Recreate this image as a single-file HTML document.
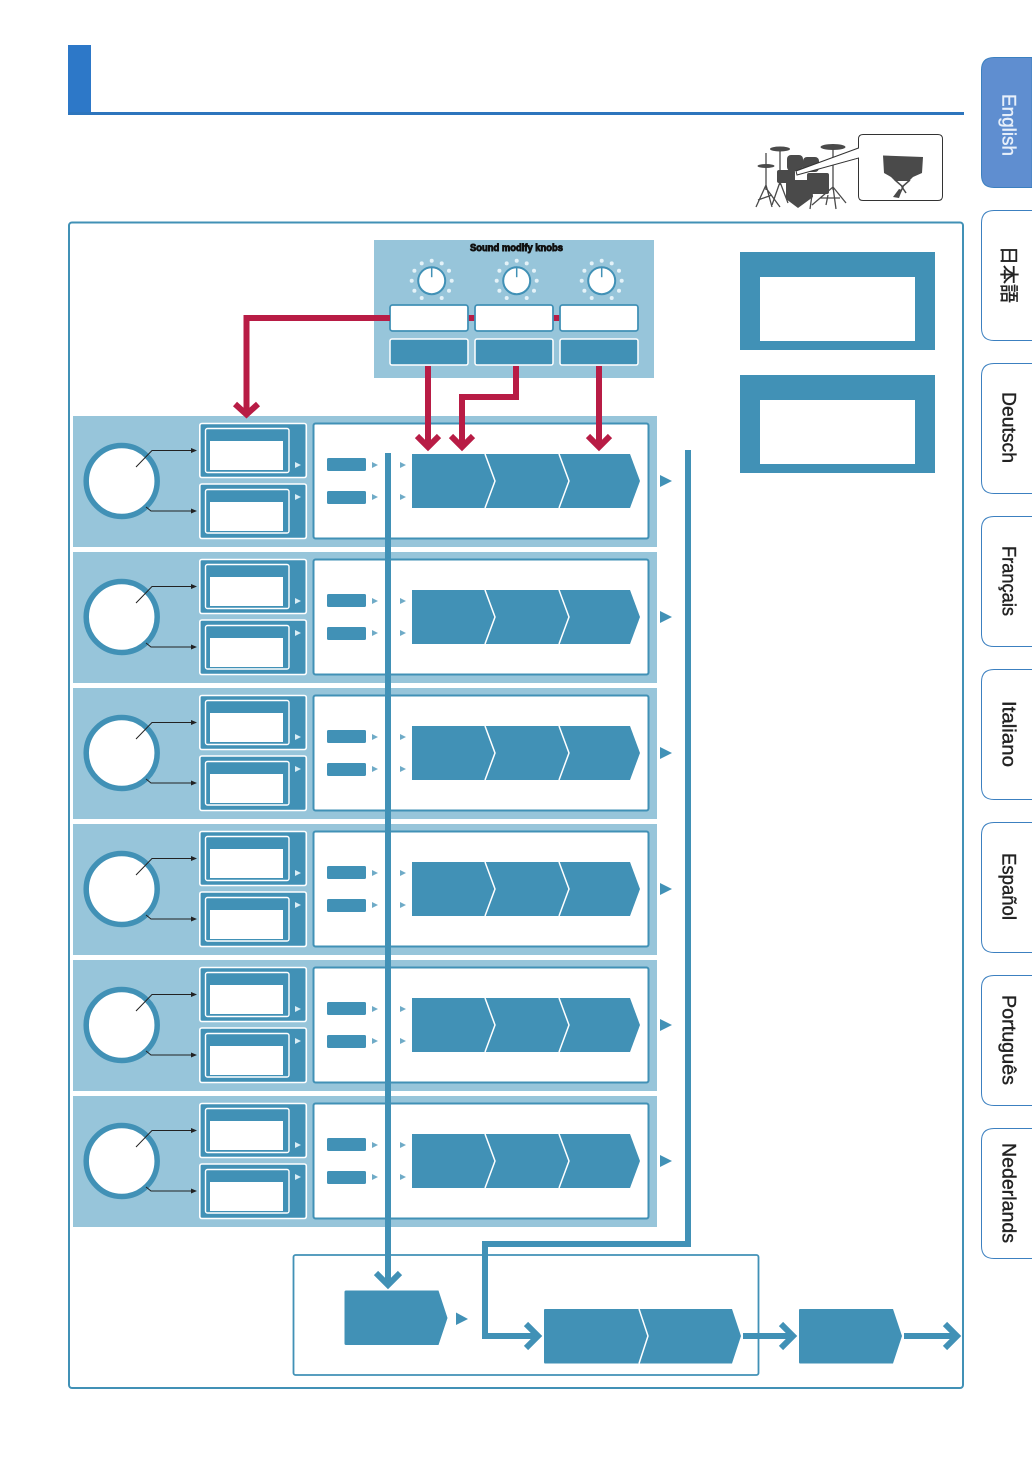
<!DOCTYPE html>
<html lang="en"><head><meta charset="utf-8"><title>Diagram</title>
<style>html,body{margin:0;padding:0;background:#fff}svg{display:block}</style></head>
<body>
<svg xmlns="http://www.w3.org/2000/svg" width="1032" height="1457" viewBox="0 0 1032 1457">
<defs>
<g id="row">
  <rect x="73" y="416" width="584" height="131" fill="#97c5da"/>
  <circle cx="121.700" cy="481" r="35.500" fill="#fff" stroke="#4191b6" stroke-width="5.500"/>
  <path d="M136 467L152 450.500H192M146 507L151 511H192" fill="none" stroke="#222" stroke-width="1"/>
  <path d="M191 448L197 450.500L191 453ZM191 508.500L197 511L191 513.500Z" fill="#222"/>
  <rect x="199.800" y="423.500" width="106.500" height="54" rx="2" fill="#4191b6" stroke="#fff" stroke-width="1.600"/>
  <rect x="205.500" y="428.500" width="83.500" height="44" rx="2" fill="#4191b6" stroke="#fff" stroke-width="1.400"/>
  <rect x="210" y="441" width="73" height="29" fill="#fff"/>
  <path d="M295 462L301 465L295 468Z" fill="#d9edf5"/>
  <rect x="199.800" y="484" width="106.500" height="54.500" rx="2" fill="#4191b6" stroke="#fff" stroke-width="1.600"/>
  <rect x="205.500" y="489.500" width="83.500" height="43.500" rx="2" fill="#4191b6" stroke="#fff" stroke-width="1.400"/>
  <rect x="210" y="502" width="73" height="29" fill="#fff"/>
  <path d="M295 494L301 497L295 500Z" fill="#d9edf5"/>
  <rect x="313.500" y="423.500" width="335" height="115" rx="2" fill="#fff" stroke="#4191b6" stroke-width="2"/>
  <rect x="327" y="458" width="39" height="13" rx="1.500" fill="#4191b6"/>
  <rect x="327" y="491" width="39" height="13" rx="1.500" fill="#4191b6"/>
  <path d="M372 462L378 465L372 468ZM372 494L378 497L372 500ZM400 462L406 465L400 468ZM400 494L406 497L400 500Z" fill="#6fabc7"/>
  <path d="M412 454H630L640 481L630 508H412Z" fill="#4191b6"/>
  <path d="M485 454L495 481L485 508M559 454L569 481L559 508" fill="none" stroke="#fff" stroke-width="1.500"/>
  <path d="M660 475L672 481L660 487Z" fill="#4191b6"/>
</g>
<g id="knob">
  <g fill="#e4f2f8">
    <circle cx="0" cy="-20" r="2"/><circle cx="10" cy="-17.300" r="2"/><circle cx="17.300" cy="-10" r="2"/><circle cx="20" cy="0" r="2"/><circle cx="17.300" cy="10" r="2"/><circle cx="10" cy="17.300" r="2"/><circle cx="8" cy="18.500" r="0"/>
    <circle cx="-10" cy="-17.300" r="2"/><circle cx="-17.300" cy="-10" r="2"/><circle cx="-20" cy="0" r="2"/><circle cx="-17.300" cy="10" r="2"/><circle cx="-10" cy="17.300" r="2"/>
  </g>
  <circle r="13.500" fill="#fff" stroke="#4191b6" stroke-width="2"/>
  <path d="M0 -14V-3.500" stroke="#4191b6" stroke-width="1.500"/>
</g>
</defs>

<rect width="1032" height="1457" fill="#fff"/>

<rect x="68" y="45" width="23" height="70" fill="#2d78c8"/>
<rect x="68" y="112" width="896" height="3" fill="#2d75bd"/>

<g fill="#fff" stroke="#3c80c0" stroke-width="1">
  <path d="M1032 57.500H994Q981.500 57.500 981.500 70V175Q981.500 187.500 994 187.500H1032Z" fill="#5f8ed0"/>
  <path d="M1032 210.500H994Q981.500 210.500 981.500 223V328Q981.500 340.500 994 340.500H1032"/>
  <path d="M1032 363.500H994Q981.500 363.500 981.500 376V481Q981.500 493.500 994 493.500H1032"/>
  <path d="M1032 516.500H994Q981.500 516.500 981.500 529V634Q981.500 646.500 994 646.500H1032"/>
  <path d="M1032 669.500H994Q981.500 669.500 981.500 682V787Q981.500 799.500 994 799.500H1032"/>
  <path d="M1032 822.500H994Q981.500 822.500 981.500 835V940Q981.500 952.500 994 952.500H1032"/>
  <path d="M1032 975.500H994Q981.500 975.500 981.500 988V1093Q981.500 1105.500 994 1105.500H1032"/>
  <path d="M1032 1128.500H994Q981.500 1128.500 981.500 1141V1246Q981.500 1258.500 994 1258.500H1032"/>
</g>
<g font-family="'Liberation Sans','Noto Sans CJK JP',sans-serif" font-size="19" fill="#222" stroke="#222" stroke-width="0.400">
  <text transform="translate(1002.500 94) rotate(90)" fill="#e8f0fa" stroke="#e8f0fa" textLength="62" lengthAdjust="spacingAndGlyphs">English</text>
  <text transform="translate(1002.500 246) rotate(90)" textLength="57" lengthAdjust="spacingAndGlyphs">日本語</text>
  <text transform="translate(1002.500 392) rotate(90)" textLength="71" lengthAdjust="spacingAndGlyphs">Deutsch</text>
  <text transform="translate(1002.500 546) rotate(90)" textLength="70" lengthAdjust="spacingAndGlyphs">Français</text>
  <text transform="translate(1002.500 701) rotate(90)" textLength="66" lengthAdjust="spacingAndGlyphs">Italiano</text>
  <text transform="translate(1002.500 853) rotate(90)" textLength="67" lengthAdjust="spacingAndGlyphs">Español</text>
  <text transform="translate(1002.500 995) rotate(90)" textLength="90" lengthAdjust="spacingAndGlyphs">Português</text>
  <text transform="translate(1002.500 1143) rotate(90)" textLength="100" lengthAdjust="spacingAndGlyphs">Nederlands</text>
</g>

<!-- drum kit -->
<g fill="none" stroke="#4a4a4a" stroke-width="1.300">
  <path d="M766 153V190M766 185L756 207M766 185L772 207M766 188L780 207M758 200L772 195"/>
  <path d="M780 150V185M780 182L772 205M780 182L788 203"/>
  <path d="M833 148V190M833 187L812 205M833 187L846 203M833 187L836 209M820 198L840 198"/>
  <path d="M812 195L810 209M828 195L826 205"/>
</g>
<g fill="#4a4a4a">
  <ellipse cx="780" cy="149" rx="10" ry="2.500"/>
  <ellipse cx="833" cy="147" rx="12.500" ry="3"/>
  <ellipse cx="766" cy="166" rx="8.500" ry="2"/>
  <rect x="787" y="155" width="16" height="16" rx="4"/>
  <rect x="803" y="157" width="16" height="15" rx="4"/>
  <rect x="777" y="170" width="18" height="13" rx="2"/>
  <rect x="807" y="173" width="22" height="21" rx="2"/>
  <path d="M786 180H812L813 197L798 208L786 199Z"/>
</g>
<path d="M858.500 148L796 171L797 175L858.500 158V196Q858.500 200.500 863 200.500H938Q942.500 200.500 942.500 196V139Q942.500 134.500 938 134.500H863Q858.500 134.500 858.500 139Z" fill="#fff" stroke="#333" stroke-width="1"/>
<path d="M860 149.500V157L798 173.500Z" fill="#fff"/>
<path d="M883 155.500L923 157L922 173L913 177L909 181H895L891 177L884 173Z" fill="#4a4a4a"/>
<path d="M895 180L903 187L898 197M910 180L902 187L906 193" fill="none" stroke="#4a4a4a" stroke-width="1.500"/>
<path d="M893 197L899 189L902 190L899 198Z" fill="#4a4a4a"/>

<rect x="69" y="222.500" width="894" height="1165.500" rx="3" fill="#fff" stroke="#4191b6" stroke-width="2"/>

<rect x="740" y="252" width="195" height="98" fill="#4191b6"/>
<rect x="760" y="277" width="155" height="64" fill="#fff"/>
<rect x="740" y="375" width="195" height="98" fill="#4191b6"/>
<rect x="760" y="400" width="155" height="64" fill="#fff"/>

<use href="#row"/>
<use href="#row" y="136"/>
<use href="#row" y="272"/>
<use href="#row" y="408"/>
<use href="#row" y="544"/>
<use href="#row" y="680"/>

<rect x="374" y="240" width="280" height="138" fill="#97c5da"/>
<text x="516.500" y="251" text-anchor="middle" font-family="'Liberation Sans',sans-serif" font-size="10" font-weight="bold" fill="#111" stroke="#111" stroke-width="0.900" textLength="93" lengthAdjust="spacingAndGlyphs">Sound modify knobs</text>
<use href="#knob" x="431.700" y="280.700"/>
<use href="#knob" x="516.700" y="280.700"/>
<use href="#knob" x="601.700" y="280.700"/>
<g fill="#b81c45">
  <rect x="466" y="315" width="12" height="6"/>
  <rect x="551" y="315" width="12" height="6"/>
</g>
<g fill="#fff" stroke="#4191b6" stroke-width="1.800">
  <rect x="390" y="305" width="78" height="26" rx="2.500"/>
  <rect x="475" y="305" width="78" height="26" rx="2.500"/>
  <rect x="560" y="305" width="78" height="26" rx="2.500"/>
</g>
<g fill="#4191b6" stroke="#fff" stroke-width="1.500">
  <rect x="390" y="339" width="78" height="26" rx="2"/>
  <rect x="475" y="339" width="78" height="26" rx="2"/>
  <rect x="560" y="339" width="78" height="26" rx="2"/>
</g>

<g fill="none" stroke="#4191b6" stroke-width="6">
  <path d="M388 453V1285"/>
  <path d="M376 1273L388 1285L400 1273"/>
  <path d="M688 450V1244H485V1336H538"/>
  <path d="M526 1324L538 1336L526 1348"/>
  <path d="M743 1336H793"/>
  <path d="M781 1324L793 1336L781 1348"/>
  <path d="M904 1336H957"/>
  <path d="M945 1324L957 1336L945 1348"/>
</g>

<rect x="293.500" y="1255" width="465" height="120" rx="2" fill="none" stroke="#4191b6" stroke-width="1.800"/>
<path d="M485 1244V1336" fill="none" stroke="#4191b6" stroke-width="6"/>
<path d="M344.500 1292Q344.500 1290.500 346 1290.500H438.500L447.500 1318L438.500 1345H346Q344.500 1345 344.500 1343.500Z" fill="#4191b6"/>
<path d="M456 1312.500L468 1319L456 1325Z" fill="#4191b6"/>
<path d="M544 1310Q544 1309 545 1309H732L741 1336L732 1363.500H545Q544 1363.500 544 1362Z" fill="#4191b6"/>
<path d="M639 1309L648 1336L639 1363.500" fill="none" stroke="#fff" stroke-width="1.500"/>
<path d="M799 1310Q799 1309 800 1309H893L902 1336L893 1363.500H800Q799 1363.500 799 1362Z" fill="#4191b6"/>

<g fill="none" stroke="#b81c45" stroke-width="6">
  <path d="M390 318H246.500V414"/>
  <path d="M235 404L246.500 414.500L258 404"/>
  <path d="M428 366V447"/>
  <path d="M417 436L428 447L439 436"/>
  <path d="M516 366V397H462V447"/>
  <path d="M451 436L462 447L473 436"/>
  <path d="M599 366V447"/>
  <path d="M588 436L599 447L610 436"/>
</g>
</svg>
</body></html>
